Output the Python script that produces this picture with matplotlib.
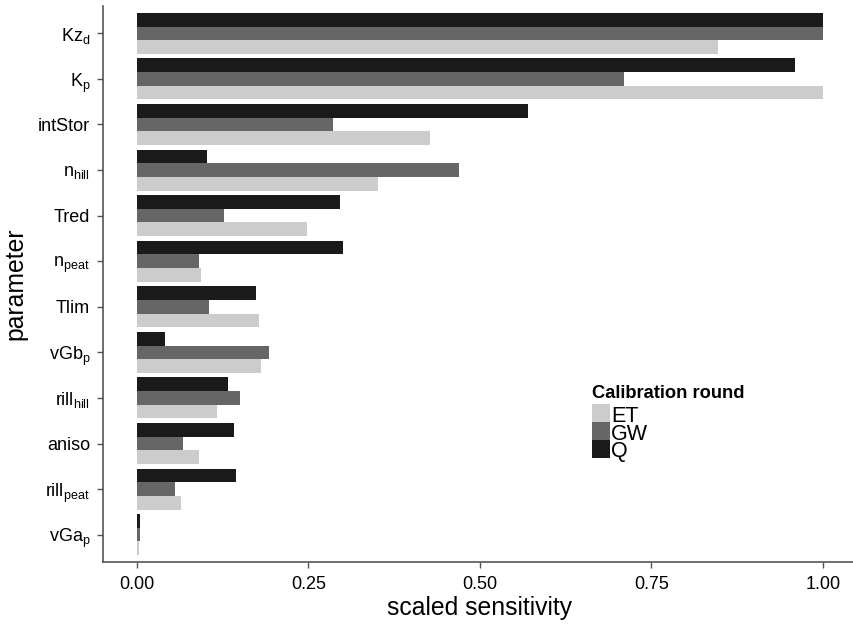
import numpy as np
import matplotlib
matplotlib.use("Agg")
import matplotlib.pyplot as plt
from matplotlib.patches import Rectangle

plt.rcParams['font.family'] = ['Liberation Sans', 'DejaVu Sans']
plt.rcParams['mathtext.fontset'] = 'custom'
plt.rcParams['mathtext.rm'] = 'Liberation Sans'
plt.rcParams['mathtext.it'] = 'Liberation Sans'

# parametres, du bas vers le haut
params = [r'vGa$_\mathrm{p}$', r'rill$_\mathrm{peat}$', 'aniso', r'rill$_\mathrm{hill}$',
          r'vGb$_\mathrm{p}$', 'Tlim', r'n$_\mathrm{peat}$', 'Tred', r'n$_\mathrm{hill}$',
          'intStor', r'K$_\mathrm{p}$', r'Kz$_\mathrm{d}$']
sens_ET = [0.003, 0.064, 0.090, 0.117, 0.181, 0.178, 0.093, 0.248, 0.351, 0.427, 1.0, 0.848]
sens_GW = [0.004, 0.056, 0.067, 0.150, 0.193, 0.105, 0.090, 0.127, 0.469, 0.286, 0.710, 1.0]
sens_Q = [0.0045, 0.144, 0.141, 0.133, 0.041, 0.173, 0.300, 0.296, 0.1016, 0.570, 0.960, 1.0]
rounds = ['ET', 'GW', 'Q']
xticks = [0.0, 0.25, 0.5, 0.75, 1.0]
xticklabels = ['0.00', '0.25', '0.50', '0.75', '1.00']

couleurs = ['#cccccc', '#666666', '#1a1a1a']

W, H = 854, 627
fig = plt.figure(figsize=(W/100, H/100), dpi=100)
ax = fig.add_axes([102.7/W, 1-562/H, 754.3/W, 556/H])

y = np.arange(1, len(params)+1)
w = 0.3
for i, (vals, lab) in enumerate(zip([sens_ET, sens_GW, sens_Q], rounds)):
    ax.barh(y + (i-1)*w, vals, height=w, color=couleurs[i], label=lab,
            edgecolor='none')

ax.set_xlim(-0.05, 1.05)
ax.set_ylim(0.4, 12.6)
ax.set_yticks(y)
ax.set_yticklabels(params, fontsize=13)
ax.set_xticks(xticks)
ax.set_xticklabels(xticklabels, fontsize=13)

for s in ['top', 'right']:
    ax.spines[s].set_visible(False)
for s in ['left', 'bottom']:
    ax.spines[s].set_color('#555555')
    ax.spines[s].set_linewidth(1.2)
ax.tick_params(axis='both', colors='#555555', labelcolor='black', length=4, width=1)
ax.tick_params(axis='y', pad=5)
ax.tick_params(axis='x', pad=6)

ax.set_xlabel('scaled sensitivity', fontsize=17.8, labelpad=2)
ax.set_ylabel('parameter', fontsize=17.8, labelpad=8)

# legende faite a la main : cases collees comme dans ggplot
lx, ly, cote = 592, 404, 18
fig.text(lx/W, 1-398/H, 'Calibration round', fontsize=13.2, fontweight='bold',
         ha='left', va='baseline')
for i, lab in enumerate(rounds):
    y0 = ly + i*cote
    fig.add_artist(Rectangle((lx/W, 1-(y0+cote)/H), cote/W, cote/H,
                             transform=fig.transFigure, color=couleurs[i], lw=0))
    fig.text((lx+cote+1)/W, 1-(y0+cote-0.5)/H, lab, fontsize=15.5,
             ha='left', va='baseline')

fig.savefig('out.png', dpi=100)
